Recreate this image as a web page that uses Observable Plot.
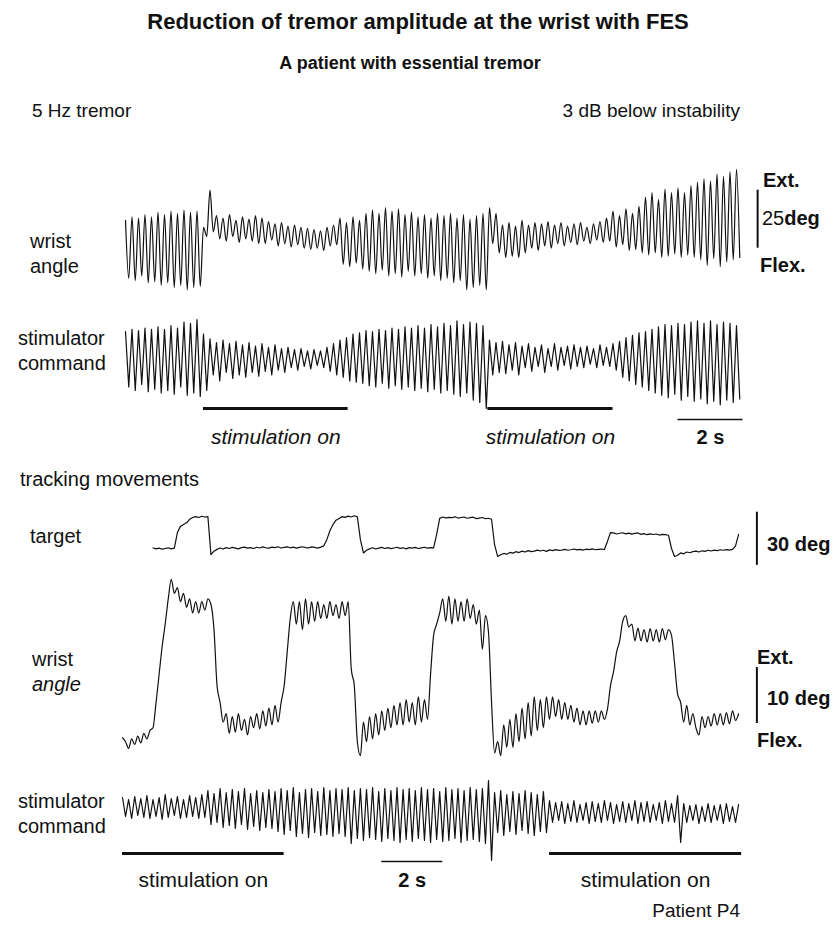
<!DOCTYPE html>
<html><head><meta charset="utf-8">
<script src="https://cdn.jsdelivr.net/npm/d3@7"></script>
<script src="https://cdn.jsdelivr.net/npm/@observablehq/plot@0.6"></script>
<style>
body{margin:0;background:#fff;}
#fig{position:relative;width:835px;height:927px;font-family:"Liberation Sans",Arial,Helvetica,sans-serif;color:#111;overflow:hidden;background:#fff;}
.lbl{position:absolute;white-space:nowrap;line-height:1;}
.plot{position:absolute;left:0;}
</style></head><body><div id="fig"></div>
<script>
// ---------------- DATA ----------------
// Upper recording: 5 Hz tremor, sampled at half tremor periods (0.1 s), starting at t = 0 s
const topDt = 0.1;
const topWristAngle = [ // deg, Ext. positive
 13,-12, 14.5,-13, 14,-11, 15.5,-14, 14.5,-13.5, 16.5,-15, 15.5,-14, 17,-16, 16,-15, 17.5,-17, 16.5,-16, 17,-15.5,
 10,6, 26,8, 15,5, 14,4, 15.5,6, 13,3.5, 14.5,5, 13.5,4, 15,3,
 14,3, 12.5,4.5, 11.5,2, 12,3, 10.5,1.5, 11,2.5, 10,1, 9.5,0.5, 9,1, 8.5,0, 10,2, 11,2.5,
 14,-6, 12,-7, 14.5,-5.5, 13,-8, 16,-9, 17.5,-10, 16,-8.5, 18.5,-11, 17,-10, 18,-11.5, 15.5,-9, 16.5,-11,
 14.5,-10, 15.5,-12, 14,-11, 16,-13, 15,-12, 16,-14, 14,-13, 15.5,-17, 13.5,-16, 15,-15, 16,-17,
 18.5,3, 16,-1, 11,-3, 12,-2.5, 10.5,-3, 13,-1, 11,1, 12,0, 11.5,2, 12.5,1, 11,3, 12,2, 10.5,3.5, 11.5,2.5, 12,4, 10,3, 11.5,4.5, 12.5,3.5,
 14,4, 17,1.5, 15,2.5, 18,0, 16,0.5, 19,-1,
 23,-2, 25,-1, 22,-3, 26.5,-2.5, 25,-1.5, 27,-3, 25,-2, 28,-3,
 29.5,-4, 31,-6.5, 30,-3.5, 33,-7, 32,-5, 34,-4, 35,-3
];
const topStimCommand = [ // arbitrary units
 24,-22, 26,-25, 25,-20, 27,-26, 26,-24, 28,-27, 26,-25, 29,-28, 27,-22, 32,-29, 31,-27, 34,-30,
 22,-25, 18,-12, 15,-17, 17,-10, 14,-15, 16,-12, 13,-14, 15,-10, 12,-13, 14,-9, 11,-12, 13,-8, 10,-10, 11,-6, 9,-8, 10,-5, 8,-7, 9,-4, 8,-6,
 11,-9, 14,-12, 17,-14, 19,-17, 22,-18,
 23,-19, 25,-21, 24,-22, 26,-19, 25,-23, 27,-21, 26,-24, 28,-22, 27,-25, 29,-23, 27,-26, 30,-24, 28,-27, 31,-25, 29,-28, 33,-30, 30,-27, 32,-33, 31,-35, 29,-40,
 17,-12, 15,-10, 16,-11, 13,-8, 15,-12, 12,-6, 14,-9, 11,-5, 13,-10, 10,-5, 14,-8, 11,-4, 12,-7, 13,-5, 11,-6, 12,-3, 10,-6, 13,-4, 11,-5, 14,-8,
 16,-14, 19,-17, 21,-20, 23,-22, 24,-25, 26,-27,
 28,-29, 30,-31, 29,-28, 31,-33, 30,-30, 32,-34, 33,-32, 31,-36, 33,-34, 30,-37, 32,-33, 31,-35, 29,-32
];
const topStimOn = [[2.4, 6.85], [11.15, 15.0]]; // s
const topTimeBar = [17.0, 19.0];                // s (2 s)
const topAngleScale = 25;                       // deg

// Lower recording: tracking movements, sampled every 0.1 s
const botDt = 0.1;
const targetStart = 1.0; // s
const targetAngle = [ // deg
 0.3,-0.2,0.2,-0.4,0,0.4,-0.2,0.2,
 9,12.5,13.5,14.5,16.5,17.5,
 18,17.5,18.2,17.8,18,
 -3.5,-1.5,-0.5,0.3,-0.3,0.5,0,0.6,0.2,-0.2,0.5,0.8,0.2,0.5,0,0.7,0.3,0.9,0.4,0.2,0.8,0.5,1,0.3,0.6,0.9,0.4,0.8,0.2,0.6,1,0.5,0.3,0.9,0.6,0.2,0.8,
 1.5,5,10,13.5,16,17,
 18,17.6,18.3,17.8,18.5,17.9,
 5,
 -2.5,-1,-0.2,0.4,-0.3,0.2,0.6,0,0.5,-0.1,0.3,0.7,0.1,0.4,-0.2,0.5,0.2,0.6,0,0.4,0.7,0.2,0.5,0.3,
 8,17,
 17.8,17.3,17.6,17.4,17.9,17.2,17.5,17.8,17.1,17.4,17.7,16.9,17.2,17.5,16.8,17.1,
 16.5,
 2,-4.5,
 -3.5,-2.8,-3.2,-2.2,-2.6,-1.8,-2.3,-1.5,-2,-1.2,-1.8,-1.5,-0.9,-1.4,-1,-1.6,-0.8,-1.2,-0.6,-1.1,-0.9,-0.5,-1,-0.7,-0.3,-0.8,-0.5,-0.9,-0.4,-0.6,-0.2,-0.7,-0.5,-0.3,-0.6,
 4,9,
 8.8,8.2,8.6,8.9,8.3,8.7,8.1,8.5,8.8,8,8.4,7.8,8.3,7.9,8.2,7.6,8,7.8,7.5,
 0,-4.5,
 -3.8,-2.5,-3,-2,-2.4,-1.8,-1.5,-2,-1.3,-1.6,-1,-1.4,-0.9,-1.2,-0.7,-1,-0.6,-0.9,-0.5,
 1.5,8
];
const botWristAngle = [ // deg, Ext. positive
 -1.3,-2,-3.2,-1.5,-2.5,-1,-2.2,-0.5,-1.5,0,0.5,
 5,10,15,19,23.5,27,
 24.5,25.5,23,24.5,22,23.5,21,23,21,23,21.5,23.5,22.5,
 18,8,5,1.5,
 3,-0.5,2.5,-0.3,3,0,2,-0.8,2.5,0.5,3,0.3,3.5,0.8,4,1,4.5,1.5,5,
 8,14,20,23,
 19,23,18,23.5,19,23,19.5,23,20,22.5,20,23,20.5,22.5,20,23,20.5,23,
 11,8,-2,-4.5,
 1.5,-2,2.5,-1.5,3,-0.8,3.5,0,4,0.5,4.5,1,5,1,5.5,1.5,5,1,6,1.5,5.5,2,
 10,17,19,21,
 23.5,19.5,24,19,23.5,19.5,23,19.5,23.5,20,22.5,19,21.5,14.5,20.5,17.5,
 5,-4,
 -2,-4.5,1,-3,2,-3,3,-2,4,-1.5,5,-1,6,0,5.5,0.5,6,
 2,6,2.5,5.5,2,5,2,4.5,1.5,4,1,3.5,1,3.5,1.3,3.5,1.5,3.5,2,3.8,
 8,10.5,14,16,19.5,20.5,
 18.5,19,16,18.3,16,18,15.8,18.2,16,18,15.8,18.2,16.2,18,17,
 12,6.5,5,
 1.5,4.5,1,3,0.5,-0.8,2.5,0.5,2.5,0.8,3,1,3,1,3.2,1.2,3.5,1.8,3
];
const botStimCommand = [ // arbitrary units
 15,-4, 13,-6, 16,-3, 14,-5, 17,-6, 13,-4, 15,-7, 18,-5, 14,-3, 16,-6, 13,-5, 17,-4, 15,-6, 18,-5,
 22,-12, 19,-10, 24,-15, 20,-13, 23,-16, 21,-12, 24,-17, 19,-14, 22,-18, 20,-15, 23,-16,
 21,-19, 24,-22, 22,-18, 25,-24, 20,-21, 23,-25, 24,-20, 21,-23, 25,-22, 22,-24, 24,-21,
 23,-24, 25,-31, 22,-26, 24,-28, 23,-25, 25,-27, 21,-29, 24,-26, 22,-28, 25,-30, 23,-27, 24,-29,
 22,-26, 25,-28, 23,-30, 24,-27, 21,-29, 25,-28, 23,-26, 24,-30, 22,-28, 25,-27, 23,-29, 24,-31,
 32,-48,
 20,-20, 22,-23, 18,-19, 21,-22, 19,-18, 22,-21, 20,-23, 18,-19, 21,-20,
 12,-10, 10,-8, 11,-11, 9,-9, 12,-10, 8,-8, 10,-11, 11,-9, 9,-10, 12,-8, 10,-11,
 8,-9, 11,-10, 9,-8, 12,-11, 10,-9, 11,-10, 8,-8, 10,-11, 12,-9, 9,-10,
 17,-30,
 9,-10, 7,-8, 8,-11, 6,-9, 9,-10, 7,-8, 8,-11, 9,-9, 6,-10, 8
];
const botStimOn = [[0, 5.3], [14.0, 20.3]]; // s
const botTimeBar = [8.5, 10.5];             // s (2 s)
const targetScale = 30;                     // deg
const botAngleScale = 10;                   // deg

// ---------------- LAYOUT ----------------
const fig = document.getElementById("fig");
const INK = "#111";
const FONT = '"Liberation Sans", Arial, Helvetica, sans-serif';
const transparent = {background: "transparent", overflow: "visible", fontFamily: FONT};

function label(text, x, y, o = {}) {
  const d = document.createElement("div");
  d.className = "lbl";
  d.textContent = text;
  d.style.left = x + "px";
  d.style.top = y + "px";
  d.style.fontSize = (o.size || 20) + "px";
  d.style.fontWeight = o.weight || "normal";
  d.style.fontStyle = o.style || "normal";
  const tx = o.anchor === "middle" ? "-50%" : o.anchor === "end" ? "-100%" : "0";
  d.style.transform = `translate(${tx},-50%)`;
  fig.appendChild(d);
  return d;
}
function place(svg, top) {
  svg.classList.add("plot");
  svg.style.top = top + "px";
  fig.appendChild(svg);
}
const series = (vals, t0, dt) => vals.map((v, i) => ({t: t0 + i * dt, v}));

const topX = {domain: [0, 19], range: [125, 742.5], axis: null};
const botX = {domain: [0, 20], range: [122, 732], axis: null};
// one-row band for the "stimulation on" bars; 2 s bar and labels are offset below it
const rowY = {type: "point", domain: ["on"], range: [0, 20], axis: null};
const LW = 1.2;

// Titles
label("Reduction of tremor amplitude at the wrist with FES", 418, 22, {size: 22, weight: "bold", anchor: "middle"});
label("A patient with essential tremor", 410, 63, {size: 18, weight: "bold", anchor: "middle"});
label("5 Hz tremor", 32, 110, {size: 19});
label("3 dB below instability", 740, 110, {size: 19, anchor: "end"});

// Top: wrist angle
place(Plot.plot({
  width: 835, height: 145, margin: 0, style: transparent,
  x: topX,
  y: {domain: [-20, 35], range: [136.4, 8.8], axis: null},
  marks: [
    Plot.line(series(topWristAngle, 0, topDt), {x: "t", y: "v", stroke: INK, strokeWidth: LW, curve: "monotone-x"}),
    Plot.ruleX([topAngleScale], {x: () => 19.45, y1: () => 1, y2: d => 1 + d, stroke: INK, strokeWidth: 2})
  ]
}), 160);
label("wrist", 30, 241);
label("angle", 30, 266);
label("Ext.", 763, 180, {weight: "bold"});
const lab25 = label("25", 762, 218);
lab25.innerHTML = `${topAngleScale}<b>deg</b>`;
label("Flex.", 760, 265, {weight: "bold"});

// Top: stimulator command
place(Plot.plot({
  width: 835, height: 110, margin: 0, style: transparent,
  x: topX,
  y: {domain: [-50, 50], range: [115, -5], axis: null},
  marks: [
    Plot.line(series(topStimCommand, 0, topDt), {x: "t", y: "v", stroke: INK, strokeWidth: LW})
  ]
}), 305);
label("stimulator", 18, 338);
label("command", 18, 363);

// Top: stimulation bars + 2 s bar + labels below
place(Plot.plot({
  width: 835, height: 20, margin: 0, style: transparent,
  x: topX, y: rowY,
  marks: [
    Plot.ruleY(topStimOn, {x1: d => d[0], x2: d => d[1], y: () => "on", stroke: INK, strokeWidth: 3}),
    Plot.ruleY([topTimeBar], {x1: d => d[0], x2: d => d[1], y: () => "on", dy: 11, stroke: INK, strokeWidth: 1.5}),
    Plot.text(topStimOn, {x: d => (d[0] + d[1]) / 2, y: () => "on", dy: 29, text: () => "stimulation on", fontSize: 21, fontStyle: "italic", fill: INK}),
    Plot.text([topTimeBar], {x: d => (d[0] + d[1]) / 2, y: () => "on", dy: 29, text: d => `${d[1] - d[0]} s`, fontSize: 20, fontWeight: "bold", fill: INK})
  ]
}), 398);

// Bottom section
label("tracking movements", 20, 479);

// Target
place(Plot.plot({
  width: 835, height: 75, margin: 0, style: transparent,
  x: botX,
  y: {domain: [-10, 30], range: [70.7, -0.1], axis: null},
  marks: [
    Plot.line(series(targetAngle, targetStart, botDt), {x: "t", y: "v", stroke: INK, strokeWidth: LW}),
    Plot.ruleX([targetScale], {x: () => 20.8, y1: () => -9.5, y2: d => -9.5 + d, stroke: INK, strokeWidth: 2})
  ]
}), 495);
label("target", 30, 536);
label(`${targetScale} deg`, 767, 544, {weight: "bold"});

// Wrist angle (tracking)
place(Plot.plot({
  width: 835, height: 195, margin: 0, style: transparent,
  x: botX,
  y: {domain: [-6, 30], range: [193.6, -8], axis: null},
  marks: [
    Plot.line(series(botWristAngle, 0, botDt), {x: "t", y: "v", stroke: INK, strokeWidth: LW, curve: "monotone-x"}),
    Plot.ruleX([botAngleScale], {x: () => 20.8, y1: () => 1.25, y2: d => 1.25 + d, stroke: INK, strokeWidth: 2})
  ]
}), 570);
label("wrist", 32, 659);
label("angle", 32, 684, {style: "italic"});
label("Ext.", 757, 657, {weight: "bold"});
label(`${botAngleScale} deg`, 767, 698, {weight: "bold"});
label("Flex.", 757, 740, {weight: "bold"});

// Stimulator command (tracking)
place(Plot.plot({
  width: 835, height: 85, margin: 0, style: transparent,
  x: botX,
  y: {domain: [-50, 50], range: [82, -18], axis: null},
  marks: [
    Plot.line(series(botStimCommand, 0, botDt), {x: "t", y: "v", stroke: INK, strokeWidth: LW})
  ]
}), 780);
label("stimulator", 18, 801);
label("command", 18, 826);

place(Plot.plot({
  width: 835, height: 20, margin: 0, style: transparent,
  x: botX, y: rowY,
  marks: [
    Plot.ruleY(botStimOn, {x1: d => d[0], x2: d => d[1], y: () => "on", stroke: INK, strokeWidth: 3}),
    Plot.ruleY([botTimeBar], {x1: d => d[0], x2: d => d[1], y: () => "on", dy: 8, stroke: INK, strokeWidth: 1.5}),
    Plot.text(botStimOn, {x: d => (d[0] + d[1]) / 2, y: () => "on", dy: 27, text: () => "stimulation on", fontSize: 21, fill: INK}),
    Plot.text([botTimeBar], {x: d => (d[0] + d[1]) / 2, y: () => "on", dy: 27, text: d => `${d[1] - d[0]} s`, fontSize: 20, fontWeight: "bold", fill: INK})
  ]
}), 843);
label("Patient P4", 740, 910, {anchor: "end", size: 19});
</script>
</body></html>
